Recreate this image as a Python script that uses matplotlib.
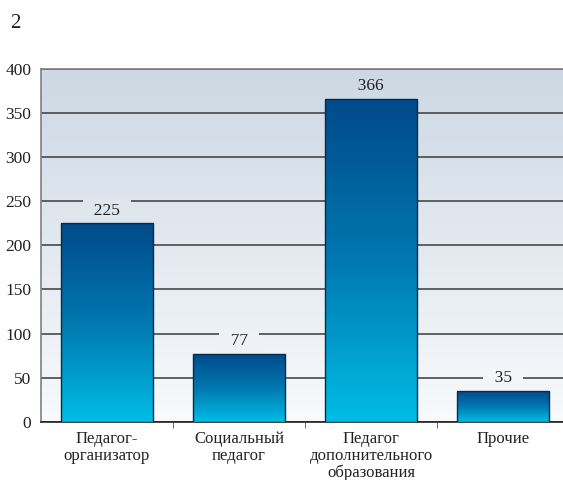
import numpy as np
import matplotlib
matplotlib.use("Agg")
import matplotlib.pyplot as plt
from matplotlib.colors import LinearSegmentedColormap

categories = ["Педагог-\nорганизатор", "Социальный\nпедагог",
              "Педагог\nдополнительного\nобразования", "Прочие"]
values = [225, 77, 366, 35]
yticks = [0, 50, 100, 150, 200, 250, 300, 350, 400]

plt.rcParams['font.family'] = ['Liberation Serif', 'DejaVu Serif']

fig = plt.figure(figsize=(5.63, 4.8), dpi=100)
ax = fig.add_axes([41/563, 58.3/480, 528/563, 352.7/480])

ymax = 400
xlo, xhi = -0.5, 3.5
ax.set_xlim(xlo, xhi)
ax.set_ylim(0, ymax)

bg_top = np.array([0xcd, 0xd8, 0xe4]) / 255
bg_bot = np.array([0xf8, 0xfa, 0xfc]) / 255
bg_cmap = LinearSegmentedColormap.from_list("bg", [bg_bot, bg_top])
grad = np.linspace(0, 1, 256).reshape(-1, 1)
ax.imshow(grad, extent=(xlo, xhi, 0, ymax), origin='lower', aspect='auto',
          cmap=bg_cmap, zorder=0, interpolation='bilinear')

def bg_at(y):
    t = min(max(y / ymax, 0), 1)
    return tuple(bg_bot + (bg_top - bg_bot) * t)

bar_cmap = LinearSegmentedColormap.from_list("bar", ["#00bde6", "#0078b0", "#004a8a"])
width = 0.7
bars = ax.bar(range(len(values)), values, width=width, facecolor='none',
              edgecolor='#0d2a45', linewidth=1.0, zorder=4)
for b in bars:
    x0, y0 = b.get_x(), b.get_y()
    w, h = b.get_width(), b.get_height()
    ax.imshow(grad, extent=(x0, x0 + w, y0, y0 + h), origin='lower', aspect='auto',
              cmap=bar_cmap, zorder=3, interpolation='bilinear')

ax.set_yticks(yticks)
ax.yaxis.grid(True, color='#3a3a3a', linewidth=1.1, zorder=1)
ax.set_axisbelow(True)

for i, v in enumerate(values):
    crosses = any(v + 3 <= t <= v + 27 for t in yticks if t < ymax)
    bbox = dict(boxstyle='square,pad=0.15', facecolor=bg_at(v + 14),
                edgecolor='none') if crosses else None
    ax.annotate("  %d  " % v, xy=(i, v), xytext=(0, 9.2), textcoords='offset points',
                ha='center', va='center', fontsize=12.5, color='#222222', zorder=2.5,
                bbox=bbox)

ax.set_xticks(range(len(categories)))
ax.set_xticklabels(categories, fontsize=12, linespacing=1.05)
ax.set_xticks([0.5, 1.5, 2.5], minor=True)
ax.tick_params(axis='x', which='major', length=0, pad=7, colors='#222222')
ax.tick_params(axis='x', which='minor', length=4, color='#555555')
ax.tick_params(axis='y', length=0, pad=7, labelsize=12.5, colors='#222222')

for s in ['top', 'left']:
    ax.spines[s].set_color('#808080')
    ax.spines[s].set_linewidth(1.2)
ax.spines['bottom'].set_color('#222222')
ax.spines['bottom'].set_linewidth(1.2)
ax.spines['right'].set_visible(False)

fig.text(10/563, 1 - 23/480, "2", fontsize=15, va='center', ha='left', color='#222222')

fig.savefig("out.png", dpi=100)
